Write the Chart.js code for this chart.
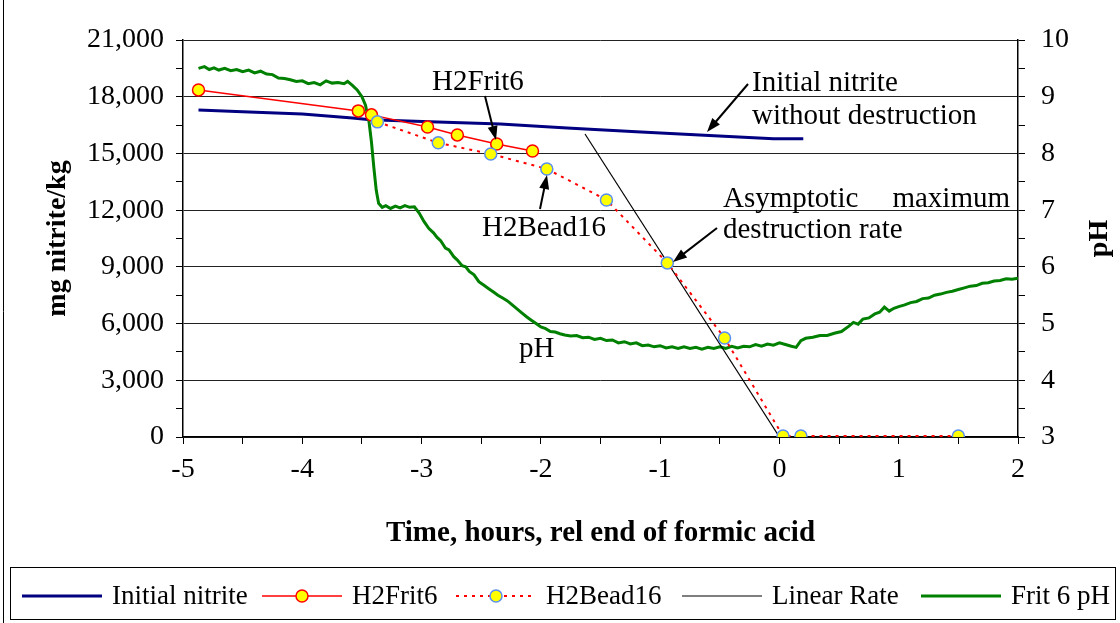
<!DOCTYPE html>
<html>
<head>
<meta charset="utf-8">
<script src="https://cdn.jsdelivr.net/npm/chart.js@4.4.1/dist/chart.umd.min.js"></script>
<style>
  html, body { margin: 0; padding: 0; background: #fff; }
  #wrap { width: 1120px; height: 623px; }
</style>
</head>
<body>
<div id="wrap"><canvas id="chartNitrito" width="1120" height="623"></canvas></div>
<script>
const SERIF = "'Liberation Serif', 'Times New Roman', Times, serif";

// tick labels
const timeTicks = [-5, -4, -3, -2, -1, 0, 1, 2];
const nitriteTicks = [0, 3000, 6000, 9000, 12000, 15000, 18000, 21000];
const phTicks = [3, 4, 5, 6, 7, 8, 9, 10];

// Initial nitrite without destruction
const initialTime = [-4.87, -4.5, -4.0, -3.58, -3.45, -3.3, -2.93, -2.34, -1.78, -1.2, -0.67, -0.3, -0.05, 0.2];
const initialNitrite = [17300, 17200, 17080, 16880, 16800, 16760, 16670, 16560, 16350, 16150, 15980, 15850, 15770, 15770];

// H2Frit6
const frit6Time = [-4.87, -3.53, -3.42, -2.95, -2.70, -2.37, -2.07];
const frit6Nitrite = [18360, 17250, 17040, 16400, 15980, 15500, 15130];

// H2Bead16
const bead16Time = [-3.37, -2.86, -2.42, -1.95, -1.45, -0.94, -0.46, 0.03, 0.18, 1.5];
const bead16Nitrite = [16670, 15560, 14970, 14180, 12540, 9210, 5240, 50, 50, 50];

// Linear Rate
const linearTime = [-1.63, 0.0];
const linearNitrite = [16030, 0];

// Frit 6 pH
const phTime = [
  -4.87, -4.82, -4.78, -4.74, -4.70, -4.65, -4.60, -4.55, -4.50, -4.45,
  -4.40, -4.35, -4.30, -4.25, -4.20, -4.15, -4.10, -4.05, -4.00, -3.95,
  -3.90, -3.85, -3.80, -3.75, -3.70, -3.65, -3.62, -3.58, -3.54, -3.50,
  -3.47, -3.44, -3.42, -3.40, -3.38, -3.36, -3.33, -3.30, -3.26, -3.22,
  -3.18, -3.14, -3.10, -3.06, -3.02, -2.98, -2.94, -2.90, -2.87, -2.84,
  -2.80, -2.77, -2.73, -2.70, -2.66, -2.63, -2.60, -2.56, -2.52, -2.48,
  -2.44, -2.40, -2.36, -2.32, -2.28, -2.24, -2.20, -2.16, -2.12, -2.08,
  -2.04, -2.00, -1.96, -1.92, -1.88, -1.84, -1.80, -1.75, -1.70, -1.65,
  -1.60, -1.55, -1.50, -1.45, -1.40, -1.35, -1.30, -1.25, -1.20, -1.15,
  -1.10, -1.05, -1.00, -0.95, -0.90, -0.85, -0.80, -0.75, -0.70, -0.65,
  -0.60, -0.55, -0.50, -0.45, -0.40, -0.35, -0.30, -0.25, -0.20, -0.15,
  -0.10, -0.05, 0.00, 0.05, 0.10, 0.14, 0.18, 0.22, 0.28, 0.34,
  0.40, 0.46, 0.52, 0.58, 0.62, 0.66, 0.70, 0.75, 0.80, 0.84,
  0.88, 0.92, 0.96, 1.00, 1.05, 1.10, 1.15, 1.20, 1.25, 1.30,
  1.35, 1.40, 1.45, 1.50, 1.55, 1.60, 1.65, 1.70, 1.75, 1.80,
  1.85, 1.90, 1.95, 2.00];
const phValue = [
  9.50, 9.53, 9.48, 9.51, 9.47, 9.50, 9.46, 9.48, 9.44, 9.47,
  9.42, 9.45, 9.40, 9.39, 9.33, 9.32, 9.30, 9.27, 9.28, 9.23,
  9.25, 9.21, 9.28, 9.24, 9.25, 9.23, 9.27, 9.20, 9.12, 9.00,
  8.85, 8.55, 8.20, 7.75, 7.35, 7.12, 7.05, 7.08, 7.03, 7.07,
  7.04, 7.08, 7.05, 7.06, 6.95, 6.80, 6.68, 6.60, 6.52, 6.46,
  6.33, 6.30, 6.18, 6.12, 6.02, 6.00, 5.92, 5.86, 5.74, 5.68,
  5.62, 5.56, 5.50, 5.45, 5.40, 5.33, 5.26, 5.19, 5.12, 5.06,
  5.00, 4.94, 4.91, 4.86, 4.85, 4.82, 4.80, 4.78, 4.79, 4.75,
  4.76, 4.72, 4.74, 4.70, 4.71, 4.66, 4.68, 4.64, 4.66, 4.61,
  4.62, 4.59, 4.61, 4.57, 4.59, 4.56, 4.59, 4.56, 4.58, 4.55,
  4.58, 4.56, 4.59, 4.56, 4.60, 4.57, 4.60, 4.59, 4.63, 4.60,
  4.64, 4.62, 4.66, 4.63, 4.60, 4.58, 4.70, 4.74, 4.76, 4.79,
  4.79, 4.83, 4.86, 4.95, 5.02, 4.99, 5.08, 5.10, 5.17, 5.20,
  5.29, 5.22, 5.27, 5.30, 5.33, 5.37, 5.39, 5.44, 5.45, 5.50,
  5.52, 5.55, 5.57, 5.60, 5.63, 5.66, 5.67, 5.71, 5.72, 5.75,
  5.76, 5.79, 5.78, 5.80];

function pts(xs, ys) {
  return xs.map((x, i) => ({ x: x, y: ys[i] }));
}

function arrow(ctx, x1, y1, x2, y2) {
  const a = Math.atan2(y2 - y1, x2 - x1);
  const len = 14, half = 5;
  ctx.beginPath();
  ctx.moveTo(x1, y1);
  ctx.lineTo(x2 - len * 0.8 * Math.cos(a), y2 - len * 0.8 * Math.sin(a));
  ctx.stroke();
  ctx.beginPath();
  ctx.moveTo(x2, y2);
  ctx.lineTo(x2 - len * Math.cos(a) + half * Math.sin(a), y2 - len * Math.sin(a) - half * Math.cos(a));
  ctx.lineTo(x2 - len * Math.cos(a) - half * Math.sin(a), y2 - len * Math.sin(a) + half * Math.cos(a));
  ctx.closePath();
  ctx.fill();
}

// annotations, right axis title, legend box
const extras = {
  id: "extras",
  afterDraw(chart) {
    const ctx = chart.ctx;
    const area = chart.chartArea;
    ctx.save();
    ctx.fillStyle = "#000";
    ctx.strokeStyle = "#000";
    ctx.textBaseline = "alphabetic";
    ctx.font = "29px " + SERIF;
    ctx.textAlign = "left";
    ctx.fillText("H2Frit6", 432, 90);
    ctx.fillText("H2Bead16", 482, 236);
    ctx.fillText("Initial nitrite", 752, 91);
    ctx.fillText("without destruction", 752, 124);
    ctx.fillText("Asymptotic", 723, 207);
    ctx.fillText("destruction rate", 723, 238);
    ctx.fillText("pH", 519, 357);
    ctx.textAlign = "right";
    ctx.fillText("maximum", 1010, 207);

    ctx.lineWidth = 2;
    arrow(ctx, 485, 96, 496, 140);
    arrow(ctx, 540, 209, 547, 175);
    arrow(ctx, 748, 84, 707, 132);
    arrow(ctx, 717, 228, 673, 262);

    // right axis title, reading bottom to top
    ctx.save();
    ctx.translate(1100, (area.top + area.bottom) / 2);
    ctx.rotate(-Math.PI / 2);
    ctx.textAlign = "center";
    ctx.textBaseline = "middle";
    ctx.font = "bold 28px " + SERIF;
    ctx.fillText("pH", 0, 0);
    ctx.restore();

    // outer frame and legend box
    ctx.lineWidth = 1;
    ctx.beginPath();
    ctx.moveTo(3.5, 0);
    ctx.lineTo(3.5, 623);
    ctx.stroke();
    ctx.strokeRect(10.5, 567.5, 1105, 52);

    const starts = [22, 262, 456, 682, 921];
    const cy = 596;
    chart.data.datasets.forEach((ds, i) => {
      const x0 = starts[i];
      ctx.save();
      ctx.strokeStyle = ds.borderColor;
      ctx.lineWidth = ds.borderWidth;
      ctx.setLineDash(ds.borderDash || []);
      ctx.beginPath();
      ctx.moveTo(x0, cy);
      ctx.lineTo(x0 + 80, cy);
      ctx.stroke();
      ctx.setLineDash([]);
      if (ds.pointRadius > 0) {
        ctx.beginPath();
        ctx.arc(x0 + 40, cy, ds.pointRadius, 0, Math.PI * 2);
        ctx.fillStyle = ds.pointBackgroundColor;
        ctx.fill();
        ctx.strokeStyle = ds.pointBorderColor;
        ctx.lineWidth = ds.pointBorderWidth;
        ctx.stroke();
      }
      ctx.fillStyle = "#000";
      ctx.font = "27px " + SERIF;
      ctx.textAlign = "left";
      ctx.textBaseline = "middle";
      ctx.fillText(ds.label, x0 + 90, cy + 1);
      ctx.restore();
    });
    ctx.restore();
  }
};

document.addEventListener("DOMContentLoaded", () => {
  const el = document.getElementById("chartNitrito");

  new Chart(el, {
    type: "line",
    data: {
      datasets: [
        {
          label: "Initial nitrite",
          data: pts(initialTime, initialNitrite),
          borderColor: "#000080",
          borderWidth: 3,
          pointRadius: 0,
          yAxisID: "y",
          order: 6
        },
        {
          label: "H2Frit6",
          data: pts(frit6Time, frit6Nitrite),
          borderColor: "#ff0000",
          borderWidth: 1.5,
          pointRadius: 6,
          pointBackgroundColor: "#ffff00",
          pointBorderColor: "#ff0000",
          pointBorderWidth: 1.5,
          yAxisID: "y",
          order: 2
        },
        {
          label: "H2Bead16",
          data: pts(bead16Time, bead16Nitrite),
          borderColor: "#ff0000",
          borderWidth: 2,
          borderDash: [3, 5],
          pointRadius: 6,
          pointBackgroundColor: "#ffff00",
          pointBorderColor: "#5a8ef0",
          pointBorderWidth: 1.5,
          yAxisID: "y",
          order: 1
        },
        {
          label: "Linear Rate",
          data: pts(linearTime, linearNitrite),
          borderColor: "#000000",
          borderWidth: 1.2,
          pointRadius: 0,
          yAxisID: "y",
          order: 4
        },
        {
          label: "Frit 6 pH",
          data: pts(phTime, phValue),
          borderColor: "#008000",
          borderWidth: 3,
          pointRadius: 0,
          yAxisID: "y1",
          order: 5
        }
      ]
    },
    options: {
      responsive: false,
      animation: false,
      devicePixelRatio: 1,
      layout: { padding: { top: 40, left: 0, right: 0, bottom: 0 } },
      plugins: { legend: { display: false }, tooltip: { enabled: false } },
      elements: { line: { tension: 0 } },
      scales: {
        x: {
          type: "linear",
          min: -5,
          max: 2,
          afterFit: (s) => { s.height = 186; },
          ticks: {
            stepSize: 0.5,
            autoSkip: false,
            maxRotation: 0,
            padding: 9,
            color: "#000",
            font: { family: SERIF, size: 28 },
            callback: (v) => timeTicks.includes(v) ? String(v) : ""
          },
          grid: { drawOnChartArea: false, tickLength: 7, tickColor: "#000" },
          border: { color: "#000", width: 1.5 },
          title: {
            display: true,
            text: "Time, hours, rel end of formic acid",
            color: "#000",
            font: { family: SERIF, size: 29, weight: "bold" },
            padding: { top: 0, bottom: 72 }
          }
        },
        y: {
          position: "left",
          min: 0,
          max: 21000,
          afterFit: (s) => { s.width = 183; },
          ticks: {
            stepSize: 1500,
            autoSkip: false,
            padding: 12,
            color: "#000",
            font: { family: SERIF, size: 28 },
            callback: (v) => nitriteTicks.includes(v) ? v.toLocaleString("en-US") : ""
          },
          grid: {
            color: (c) => (c.tick && nitriteTicks.includes(c.tick.value)) ? "#222" : "rgba(0,0,0,0)",
            tickColor: "#000",
            tickLength: 7,
            lineWidth: 1
          },
          border: { color: "#000", width: 1.5 },
          title: {
            display: true,
            text: "mg nitrite/kg",
            color: "#000",
            font: { family: SERIF, size: 28, weight: "bold" },
            padding: { top: 41, bottom: 0 }
          }
        },
        y1: {
          position: "right",
          min: 3,
          max: 10,
          afterFit: (s) => { s.width = 102; },
          ticks: {
            stepSize: 0.5,
            autoSkip: false,
            padding: 16,
            color: "#000",
            font: { family: SERIF, size: 28 },
            callback: (v) => phTicks.includes(v) ? String(v) : ""
          },
          grid: { drawOnChartArea: false, tickColor: "#000", tickLength: 7 },
          border: { color: "#000", width: 1.5 }
        }
      }
    },
    plugins: [extras]
  });
});
</script>
</body>
</html>
